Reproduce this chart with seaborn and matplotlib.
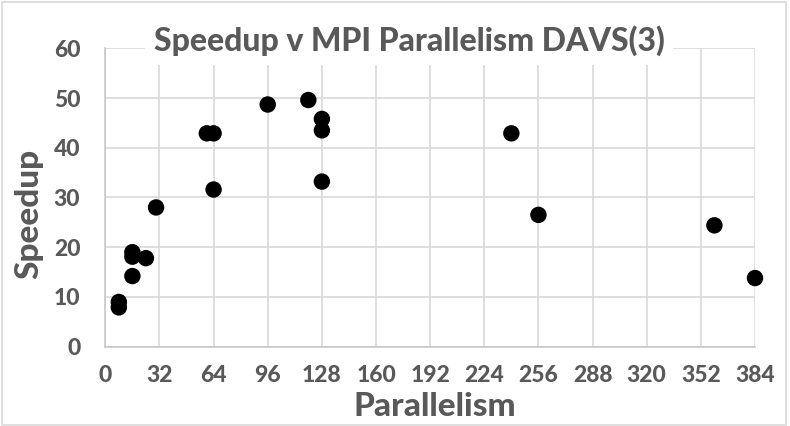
import pandas as pd
import matplotlib
matplotlib.use("Agg")
import matplotlib.pyplot as plt
import seaborn as sns

# data
parallelism = [8, 8, 16, 16, 16, 24, 30, 60, 64, 64, 96, 120, 128, 128, 128, 240, 256, 360, 384]
speedup = [9.0, 7.9, 19.0, 18.1, 14.2, 17.8, 28.0, 42.9, 42.9, 31.6, 48.7, 49.6, 45.8, 43.5, 33.2, 42.9, 26.5, 24.4, 13.8]
x_ticks = [0, 32, 64, 96, 128, 160, 192, 224, 256, 288, 320, 352, 384]
y_ticks = [0, 10, 20, 30, 40, 50, 60]

df = pd.DataFrame({"Parallelism": parallelism, "Speedup": speedup})

sns.set_style("white")
plt.rcParams['font.family'] = ['Lato', 'DejaVu Sans']

text_col = "#595959"
grid_col = "#d9d9d9"

fig = plt.figure(figsize=(7.9, 4.26), dpi=100)
ax = fig.add_axes([0.1333, 0.1862, 0.8224, 0.7004])

sns.scatterplot(data=df, x="Parallelism", y="Speedup", ax=ax, color="black",
                s=140, edgecolor="none", zorder=3, clip_on=False)

ax.set_xlim(0, 384)
ax.set_ylim(0, 60)
ax.set_xticks(x_ticks)
ax.set_yticks(y_ticks)
ax.grid(True, color=grid_col, linewidth=1.2)
ax.set_axisbelow(True)
for side in ["top", "right"]:
    ax.spines[side].set_visible(False)
for side in ["left", "bottom"]:
    ax.spines[side].set_color("#c8c8c8")
    ax.spines[side].set_linewidth(1.2)
ax.tick_params(axis="x", length=0, labelsize=16.5, labelcolor=text_col, pad=13)
ax.tick_params(axis="y", length=0, labelsize=16.5, labelcolor=text_col, pad=18)
for lbl in ax.get_xticklabels() + ax.get_yticklabels():
    lbl.set_fontweight("black")

ax.set_xlabel("Parallelism", fontsize=24, fontweight="black", color=text_col, va="center")
ax.set_ylabel("Speedup", fontsize=24, fontweight="black", color=text_col, va="center")
ax.xaxis.set_label_coords(0.507, -0.20)
ax.yaxis.set_label_coords(-0.117, 0.446)

# title sits over the top gridline on a white box, as in the original
fig.text(409 / 790, 1 - 41 / 426, "Speedup v MPI Parallelism DAVS(3)",
         ha="center", va="center", fontsize=23, fontweight="black", color=text_col,
         bbox=dict(facecolor="white", edgecolor="none", pad=6), zorder=5)

# light outer frame like the exported chart
fig.patches.append(plt.Rectangle((0.003, 0.003), 0.992, 0.992, transform=fig.transFigure,
                                 fill=False, edgecolor="#d9d9d9", linewidth=1.2))

fig.savefig("out.png", dpi=100)
